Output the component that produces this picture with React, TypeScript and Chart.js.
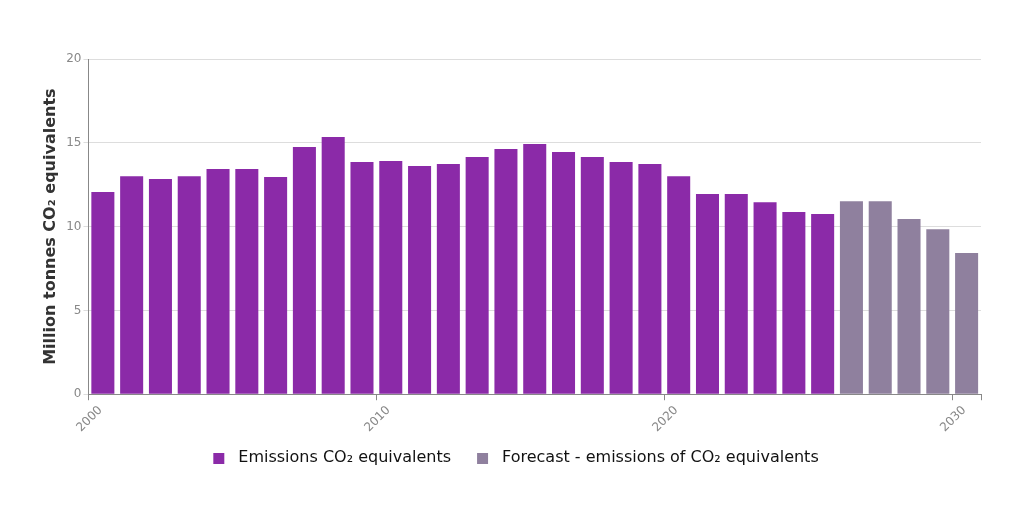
// App.tsx
// CO2 emissions bars, history plus forecast, on a linear year axis.

import { useEffect, useRef } from "react";
import { Chart, registerables } from "chart.js";

Chart.register(...registerables);

const years = [
  2000, 2001, 2002, 2003, 2004, 2005, 2006, 2007, 2008, 2009, 2010, 2011, 2012,
  2013, 2014, 2015, 2016, 2017, 2018, 2019, 2020, 2021, 2022, 2023, 2024, 2025,
];
const emissions = [
  12.06, 13.01, 12.84, 13.01, 13.43, 13.43, 12.96, 14.75, 15.34, 13.85, 13.91,
  13.61, 13.73, 14.15, 14.63, 14.93, 14.45, 14.15, 13.85, 13.73, 13.01, 11.94,
  11.94, 11.46, 10.87, 10.75,
];
const forecastYears = [2026, 2027, 2028, 2029, 2030];
const forecast = [11.52, 11.52, 10.45, 9.85, 8.42];

const xTicks = [2000, 2010, 2020, 2030];
const xEnd = 2031;
const yTicks = [0, 5, 10, 15, 20];

const PURPLE = "#8b2aa8";
const FORECAST = "#8f809e";
const TICK = "#888";
const FONT = "'DejaVu Sans', sans-serif";

// each bar sits in the middle of its year
const toPoints = (xs: number[], ys: number[]) =>
  xs.map((yr, i) => ({ x: yr + 0.5, y: ys[i] }));

// legend swatch: small square with some air on both sides
function swatch(color: string) {
  const c = document.createElement("canvas");
  c.width = 31;
  c.height = 11;
  const ctx = c.getContext("2d")!;
  ctx.fillStyle = color;
  ctx.fillRect(14, 0, 11, 11);
  return c;
}

export default function App() {
  const ref = useRef<HTMLCanvasElement>(null);

  useEffect(() => {
    document.body.style.margin = "0";
    if (!ref.current) return;
    Chart.defaults.font.family = FONT;
    const chart = new Chart(ref.current, {
      type: "bar",
      data: {
        datasets: [
          {
            label: "Emissions CO₂ equivalents",
            data: toPoints(years, emissions),
            backgroundColor: PURPLE,
            borderWidth: 0,
            grouped: false,
            categoryPercentage: 1,
            barPercentage: 0.8,
          },
          {
            label: "Forecast - emissions of CO₂ equivalents",
            data: toPoints(forecastYears, forecast),
            backgroundColor: FORECAST,
            borderWidth: 0,
            grouped: false,
            categoryPercentage: 1,
            barPercentage: 0.8,
          },
        ],
      },
      options: {
        responsive: true,
        maintainAspectRatio: false,
        animation: false,
        layout: { padding: { top: 59, left: 37, right: 43, bottom: 34 } },
        scales: {
          x: {
            type: "linear",
            offset: false,
            min: xTicks[0],
            max: xEnd,
            afterBuildTicks: (scale) => {
              scale.ticks = [...xTicks, xEnd].map((value) => ({ value }));
            },
            ticks: {
              color: TICK,
              font: { family: FONT, size: 12 },
              minRotation: 45,
              maxRotation: 45,
              autoSkip: false,
              labelOffset: 12,
              callback: (v) => (xTicks.includes(Number(v)) ? String(v) : ""),
            },
            grid: { offset: false, drawOnChartArea: false, tickLength: 6, color: TICK },
            border: { color: TICK },
          },
          y: {
            min: yTicks[0],
            max: yTicks[yTicks.length - 1],
            afterBuildTicks: (scale) => {
              scale.ticks = yTicks.map((value) => ({ value }));
            },
            ticks: { color: TICK, font: { family: FONT, size: 12 }, padding: 2 },
            grid: { color: "#dddddd", tickLength: 5 },
            border: { color: TICK },
            title: {
              display: true,
              text: "Million tonnes CO₂ equivalents",
              color: "#333",
              font: { family: FONT, size: 16, weight: "bold" },
              padding: { bottom: 4 },
            },
          },
        },
        plugins: {
          legend: {
            position: "bottom",
            labels: {
              usePointStyle: true,
              pointStyleWidth: 31,
              boxHeight: 11,
              color: "#111",
              font: { family: FONT, size: 16 },
              padding: 12,
              generateLabels: (ch) =>
                Chart.defaults.plugins.legend.labels
                  .generateLabels(ch)
                  .map((item) => ({ ...item, pointStyle: swatch(item.fillStyle as string) })),
            },
          },
        },
      },
    });
    return () => chart.destroy();
  }, []);

  return (
    <div style={{ position: "relative", width: 1024, height: 510 }}>
      <canvas ref={ref} role="img" aria-label="Bar chart of CO2 emissions 2000 to 2030" />
    </div>
  );
}
